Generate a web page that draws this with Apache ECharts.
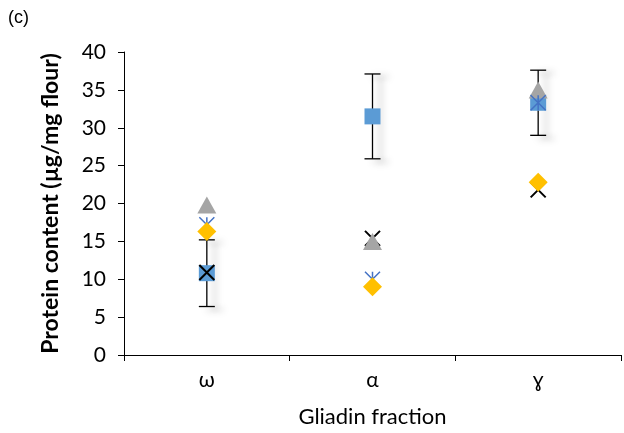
<!DOCTYPE html>
<html><head><meta charset="utf-8">
<script src="https://cdn.jsdelivr.net/npm/echarts@6/dist/echarts.min.js"></script>
<style>html,body{margin:0;padding:0;background:#fff}#c{width:624px;height:433px}</style>
</head><body><div id="c"></div>
<script>
var categories = ['ω', 'α', 'ɣ'];
var yTicks = [0, 5, 10, 15, 20, 25, 30, 35, 40];
var squareVals = [10.8, 31.5, 33.3];
var squareErr = [4.4, 5.6, 4.3];
var triangleVals = [19.8, 15.0, 35.0];
var starVals = [17.2, 10.0, 33.3];
var diamondVals = [16.3, 9.0, 22.8];
var crossVals = [10.9, 15.4, 21.8];

var FONT = 'Lato';
var chart = echarts.init(document.getElementById('c'));
var starPath = 'path://M0,0L10,10M10,0L0,10M5,0L5,10';
var crossPath = 'path://M0,0L10,10M10,0L0,10';

var errData = categories.map(function (c, i) {
  return [i, squareVals[i] - squareErr[i], squareVals[i] + squareErr[i]];
});

chart.setOption({
  animation: false,
  title: { text: '(c)', left: 8, top: 9, padding: 0,
    textStyle: { fontFamily: 'Liberation Sans', fontSize: 18, fontWeight: 'normal', color: '#000' } },
  grid: { left: 124, right: 3, top: 52, bottom: 77 },
  xAxis: {
    type: 'category', data: categories, boundaryGap: true,
    name: 'Gliadin fraction', nameLocation: 'middle', nameGap: 51,
    nameTextStyle: { fontFamily: FONT, fontSize: 22, color: '#000' },
    axisLine: { lineStyle: { color: '#000', width: 1 } },
    axisTick: { show: true, length: 6, lineStyle: { color: '#000' } },
    axisLabel: { fontFamily: FONT, fontSize: 21, color: '#000', margin: 15 }
  },
  yAxis: {
    type: 'value', min: 0, max: 40, interval: 5,
    name: 'Protein content (µg/mg flour)', nameLocation: 'middle', nameGap: 62, nameRotate: 90,
    nameTextStyle: { fontFamily: FONT, fontSize: 23, fontWeight: 'bold', color: '#000' },
    axisLine: { show: true, lineStyle: { color: '#000', width: 1 } },
    axisTick: { show: true, length: 6, lineStyle: { color: '#000' } },
    splitLine: { show: false },
    axisLabel: { fontFamily: FONT, fontSize: 21, color: '#000', margin: 18,
      formatter: function (v) { return yTicks.indexOf(v) >= 0 ? String(v) : ''; } }
  },
  series: [
    {
      type: 'custom', z: 2, data: errData,
      renderItem: function (params, api) {
        var x = api.coord([api.value(0), api.value(1)])[0];
        var lo = api.coord([api.value(0), api.value(1)])[1];
        var hi = api.coord([api.value(0), api.value(2)])[1];
        var st = { stroke: '#000', lineWidth: 1.3, shadowBlur: 7, shadowColor: 'rgba(0,0,0,0.4)', shadowOffsetX: 8, shadowOffsetY: 3 };
        return { type: 'group', children: [
          { type: 'line', shape: { x1: x, y1: lo, x2: x, y2: hi }, style: st },
          { type: 'line', shape: { x1: x - 8, y1: lo, x2: x + 8, y2: lo }, style: st },
          { type: 'line', shape: { x1: x - 8, y1: hi, x2: x + 8, y2: hi }, style: st }
        ] };
      }
    },
    { type: 'scatter', z: 3, data: squareVals, symbol: 'rect', symbolSize: 16, itemStyle: { color: '#5B9BD5', opacity: 1 } },
    { type: 'scatter', z: 4, data: crossVals, symbol: crossPath, symbolSize: 15, itemStyle: { color: 'none', borderColor: '#000', borderWidth: 2, opacity: 1 } },
    { type: 'scatter', z: 5, data: triangleVals, symbol: 'triangle', symbolSize: [19, 17], itemStyle: { color: '#A5A5A5', opacity: 1 } },
    { type: 'scatter', z: 6, data: starVals, symbol: starPath, symbolSize: 15, itemStyle: { color: 'none', borderColor: '#4472C4', borderWidth: 1.5, opacity: 1 } },
    { type: 'scatter', z: 7, data: diamondVals, symbol: 'diamond', symbolSize: [19, 19], itemStyle: { color: '#FFC000', opacity: 1 } }
  ]
});
</script></body></html>
